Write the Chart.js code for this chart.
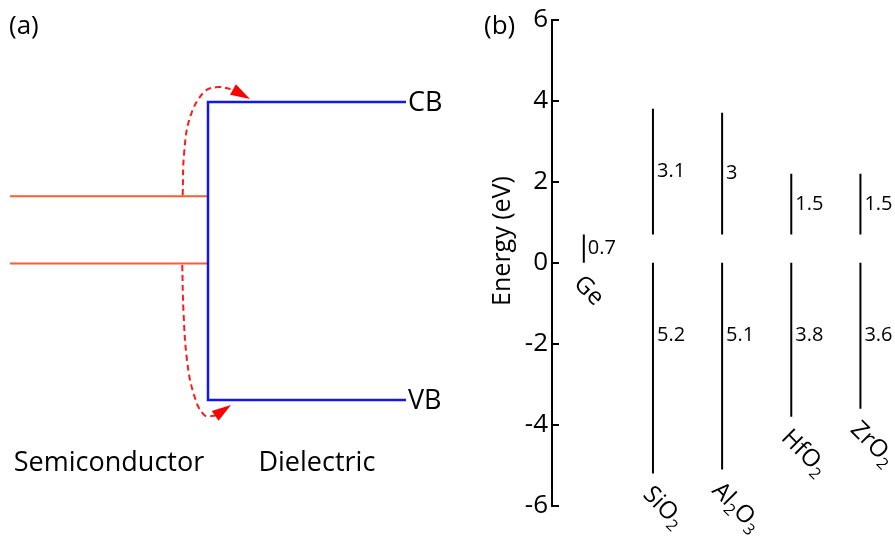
<!DOCTYPE html>
<html>
<head>
<meta charset="utf-8">
<title>Band offsets</title>
<script src="https://cdn.jsdelivr.net/npm/chart.js@4.4.1/dist/chart.umd.min.js"></script>
<style>
  html, body { margin: 0; padding: 0; background: #fff; }
  #wrap { position: relative; width: 895px; height: 538px; overflow: hidden; }
  .panel { position: absolute; top: 0; height: 538px; }
  #panelA { left: 0; width: 470px; }
  #panelB { left: 470px; width: 425px; }
</style>
</head>
<body>
<div id="wrap">
  <div class="panel" id="panelA"><canvas id="bandCanvas"></canvas></div>
  <div class="panel" id="panelB"><canvas id="offsetCanvas"></canvas></div>
</div>
<script>
// (a) schematic: interface at x = 0, dielectric VB at y = 0, CB at y = 6 (arbitrary units)
const dielectricBand = [{x: 5, y: 6}, {x: 0, y: 6}, {x: 0, y: 0}, {x: 5, y: 0}];
const semiLevels = [4.1, 2.75];
const semiLeft = -5;
const upperPath = [{x: -0.64, y: 4.12}, {x: -0.6, y: 5.0}, {x: -0.45, y: 5.7}, {x: -0.1, y: 6.2}, {x: 0.25, y: 6.3}, {x: 0.63, y: 6.25}];
const upperTip = {x: 1.06, y: 6.06};
const lowerPath = [{x: -0.65, y: 2.72}, {x: -0.62, y: 1.8}, {x: -0.53, y: 0.8}, {x: -0.36, y: 0.12}, {x: -0.1, y: -0.3}, {x: 0.18, y: -0.32}];
const lowerTip = {x: 0.58, y: -0.10};

// (b) band offsets referred to the Ge valence band edge, eV
const materials = ['Ge', 'SiO2', 'Al2O3', 'HfO2', 'ZrO2'];
const geGap = 0.7;
const cbOffsets = [3.1, 3, 1.5, 1.5];
const vbOffsets = [5.2, 5.1, 3.8, 3.6];
const energyTicks = [-6, -4, -2, 0, 2, 4, 6];

const FONT = "'Open Sans', sans-serif";
Chart.defaults.font.family = FONT;
Chart.defaults.color = '#000';

// text with digits drawn as subscripts (SiO2 -> SiO₂)
function drawFormula(ctx, name, x, y, size) {
  let cx = x;
  for (const ch of name) {
    const sub = /[0-9]/.test(ch);
    ctx.font = (sub ? Math.round(size * 0.68) : size) + 'px ' + FONT;
    ctx.fillText(ch, cx, sub ? y + size * 0.22 : y);
    cx += ctx.measureText(ch).width;
  }
}

function segment(x, y0, y1) {
  return [{x: x, y: y0}, {x: x, y: y1}];
}

// ---------- panel (a) ----------
const arrowHeads = {
  id: 'arrowHeads',
  afterDatasetsDraw(chart) {
    const {ctx, scales: {x, y}} = chart;
    chart.data.datasets.forEach((ds, i) => {
      if (!ds.arrowTip) return;
      const pts = chart.getDatasetMeta(i).data;
      const base = pts[pts.length - 1];
      const tx = x.getPixelForValue(ds.arrowTip.x);
      const ty = y.getPixelForValue(ds.arrowTip.y);
      const dx = tx - base.x, dy = ty - base.y;
      const len = Math.hypot(dx, dy);
      const nx = -dy / len * 6, ny = dx / len * 6;
      ctx.save();
      ctx.fillStyle = '#ff0000';
      ctx.beginPath();
      ctx.moveTo(tx, ty);
      ctx.lineTo(base.x + nx, base.y + ny);
      ctx.lineTo(base.x - nx, base.y - ny);
      ctx.closePath();
      ctx.fill();
      ctx.restore();
    });
  }
};

const bandText = {
  id: 'bandText',
  afterDraw(chart) {
    const {ctx, scales: {x, y}} = chart;
    ctx.save();
    ctx.fillStyle = '#000';
    ctx.textBaseline = 'alphabetic';
    ctx.font = '26px ' + FONT;
    ctx.textAlign = 'left';
    ctx.fillText('(a)', 9, 34);
    ctx.font = '27px ' + FONT;
    ctx.fillText('CB', x.getPixelForValue(5) + 2, y.getPixelForValue(6) + 9);
    ctx.fillText('VB', x.getPixelForValue(5) + 2, y.getPixelForValue(0) + 9);
    ctx.textAlign = 'center';
    ctx.fillText('Semiconductor', x.getPixelForValue(-2.5), 471);
    ctx.fillText('Dielectric', x.getPixelForValue(2.75), 471);
    ctx.restore();
  }
};

const bandDatasets = [
  {data: dielectricBand, borderColor: '#1414f5', borderWidth: 2.5},
  ...semiLevels.map(lv => ({data: [{x: semiLeft, y: lv}, {x: 0, y: lv}], borderColor: '#ef6234', borderWidth: 2})),
  {data: upperPath, borderColor: '#ff1a1a', borderWidth: 2, borderDash: [6, 4], tension: 0.4, arrowTip: upperTip},
  {data: lowerPath, borderColor: '#ff1a1a', borderWidth: 2, borderDash: [6, 4], tension: 0.4, arrowTip: lowerTip}
].map(ds => Object.assign({showLine: true, pointRadius: 0, clip: false}, ds));

new Chart(document.getElementById('bandCanvas'), {
  type: 'scatter',
  data: {datasets: bandDatasets},
  options: {
    responsive: true,
    maintainAspectRatio: false,
    animation: false,
    layout: {padding: {left: 10, right: 64, top: 102, bottom: 138}},
    plugins: {legend: {display: false}, tooltip: {enabled: false}},
    scales: {
      x: {type: 'linear', display: false, min: -5, max: 5},
      y: {type: 'linear', display: false, min: 0, max: 6}
    }
  },
  plugins: [arrowHeads, bandText]
});

// ---------- panel (b) ----------
const offsetDatasets = [
  {data: segment(1, 0, geGap), valueText: String(geGap), labelAt: geGap / 2}
];
cbOffsets.forEach((cb, i) => {
  const pos = i + 2;
  offsetDatasets.push({data: segment(pos, geGap, geGap + cb), valueText: String(cb), labelAt: geGap + cb / 2});
  offsetDatasets.push({data: segment(pos, 0, -vbOffsets[i]), valueText: String(vbOffsets[i]), labelAt: -1.8});
});
offsetDatasets.forEach(ds => Object.assign(ds, {showLine: true, pointRadius: 0, borderColor: '#000', borderWidth: 2}));

const offsetText = {
  id: 'offsetText',
  afterDraw(chart) {
    const {ctx, chartArea, scales: {x, y}} = chart;
    ctx.save();
    ctx.fillStyle = '#000';
    ctx.strokeStyle = '#000';

    // inward tick marks
    ctx.lineWidth = 2;
    y.ticks.forEach(t => {
      const py = Math.round(y.getPixelForValue(t.value));
      ctx.beginPath();
      ctx.moveTo(chartArea.left, py);
      ctx.lineTo(chartArea.left + 7, py);
      ctx.stroke();
    });

    // offset values beside each segment
    ctx.font = '20px ' + FONT;
    ctx.textAlign = 'left';
    ctx.textBaseline = 'middle';
    chart.data.datasets.forEach(ds => {
      ctx.fillText(ds.valueText, x.getPixelForValue(ds.data[0].x) + 4, y.getPixelForValue(ds.labelAt));
    });

    // material names, slanted under the lowest edge
    ctx.textBaseline = 'alphabetic';
    materials.forEach((name, i) => {
      const low = i === 0 ? 0 : -vbOffsets[i - 1];
      const px = x.getPixelForValue(i + 1) - 11;
      const py = y.getPixelForValue(low) + 22;
      ctx.save();
      ctx.translate(px, py);
      ctx.rotate(Math.PI / 4);
      drawFormula(ctx, name, 0, 0, 24);
      ctx.restore();
    });

    ctx.font = '26px ' + FONT;
    ctx.fillText('(b)', 14, 34);

    ctx.save();
    ctx.translate(33, 241);
    ctx.rotate(-Math.PI / 2);
    ctx.textAlign = 'center';
    ctx.textBaseline = 'middle';
    ctx.font = '25px ' + FONT;
    ctx.fillText('Energy (eV)', 0, 0);
    ctx.restore();

    ctx.restore();
  }
};

new Chart(document.getElementById('offsetCanvas'), {
  type: 'scatter',
  data: {datasets: offsetDatasets},
  options: {
    responsive: true,
    maintainAspectRatio: false,
    animation: false,
    layout: {padding: {left: 0, right: 0, top: 17, bottom: 32}},
    plugins: {legend: {display: false}, tooltip: {enabled: false}},
    scales: {
      x: {type: 'linear', display: false, min: 0.54, max: 5.5},
      y: {
        type: 'linear',
        min: -6,
        max: 6,
        afterBuildTicks: s => { s.ticks = energyTicks.map(v => ({value: v})); },
        afterFit: s => { s.width = 82; },
        grid: {display: false, drawTicks: false},
        border: {display: true, color: '#000', width: 2},
        ticks: {color: '#000', font: {size: 26}, padding: 4}
      }
    }
  },
  plugins: [offsetText]
});
</script>
</body>
</html>
